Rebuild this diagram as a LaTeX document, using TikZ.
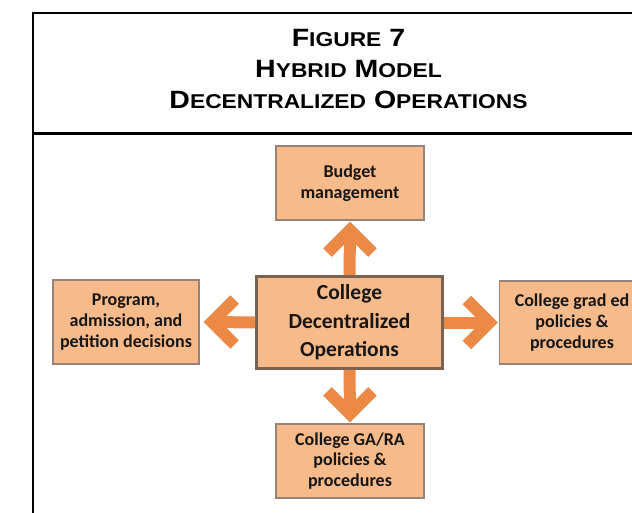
\documentclass[tikz,border=0pt]{standalone}
\usepackage{fontspec}
\usetikzlibrary{calc}
\newfontfamily\titlefont{Liberation Sans}[FakeStretch=1.14]
\newfontfamily\boxfont{Carlito}
\definecolor{boxfill}{RGB}{247,186,139}
\definecolor{arrowc}{RGB}{237,137,70}
\definecolor{boxline}{RGB}{150,132,120}
\definecolor{centerline}{RGB}{122,98,80}
\definecolor{ink}{RGB}{22,22,22}
\newcommand\tsc[1]{{\fontsize{20}{20}\selectfont #1}}
\tikzset{
  titletext/.style={anchor=base, inner sep=0pt, font=\titlefont\bfseries\fontsize{25}{31}\selectfont, text=black},
  smallbox/.style={draw=boxline, line width=1.3pt, fill=boxfill, inner sep=0pt, align=center, text=ink,
     font=\boxfont\bfseries\fontsize{18}{20.7}\selectfont},
  bigbox/.style={draw=centerline, line width=2.6pt, fill=boxfill, inner sep=0pt, align=center, text=ink,
     font=\boxfont\bfseries\fontsize{21.5}{28.5}\selectfont},
  arr/.style={draw=arrowc, line width=12pt, line join=miter, line cap=butt},
  frameline/.style={draw=black, line cap=rect}
}
\begin{document}
\begin{tikzpicture}[x=1pt,y=-1pt]
\useasboundingbox (0,0) rectangle (632,513);
\clip (0,0) rectangle (632,513);
\fill[white] (0,0) rectangle (632,513);
% frame
\coordinate (ftl) at (33,13);
\coordinate (ftr) at (640,13);
\coordinate (fbl) at (33,520);
\coordinate (sepl) at (33,133.5);
\coordinate (sepr) at (640,133.5);
\draw[frameline, line width=2.5pt] (fbl) -- (ftl) -- (ftr);
\draw[frameline, line width=3pt] (sepl) -- (sepr);
% title
\node[titletext] (t1) at (348.5,47) {F\tsc{IGURE} 7};
\node[titletext] (t2) at (348.5,78) {H\tsc{YBRID} M\tsc{ODEL}};
\node[titletext] (t3) at (348.5,109) {D\tsc{ECENTRALIZED} O\tsc{PERATIONS}};
% boxes
\node[smallbox, minimum width=148pt, minimum height=74pt] (budget) at (350,183) {Budget\\management};
\node[bigbox, minimum width=186pt, minimum height=92pt] (center) at (349.5,322.5) {College\\Decentralized\\Operations};
\node[smallbox, minimum width=146pt, minimum height=84pt] (left) at (126,322) {Program,\\admission, and\\petition decisions};
\node[smallbox, minimum width=145pt, minimum height=83pt] (right) at (572,322.5) {College grad ed\\policies \&\\procedures};
\node[smallbox, minimum width=148pt, minimum height=74pt] (bottom) at (350,461) {College GA/RA\\policies \&\\procedures};
% up arrow
\draw[arr] (center.north) -- ($(budget.south)+(0,9.5)$);
\draw[arr] ($(budget.south)+(-22.5,32)$) -- ($(budget.south)+(0,9.5)$) -- ($(budget.south)+(22.5,32)$);
% down arrow
\draw[arr] (center.south) -- ($(bottom.north)+(0,-9.5)$);
\draw[arr] ($(bottom.north)+(-22.5,-32)$) -- ($(bottom.north)+(0,-9.5)$) -- ($(bottom.north)+(22.5,-32)$);
% left arrow
\draw[arr] (center.west) -- ($(left.east)+(12.5,0)$);
\draw[arr] ($(left.east)+(35,-22.5)$) -- ($(left.east)+(12.5,0)$) -- ($(left.east)+(35,22.5)$);
% right arrow
\draw[arr] (center.east) -- ($(right.west)+(-9.5,0)$);
\draw[arr] ($(right.west)+(-32,-22.5)$) -- ($(right.west)+(-9.5,0)$) -- ($(right.west)+(-32,22.5)$);
\end{tikzpicture}
\end{document}
